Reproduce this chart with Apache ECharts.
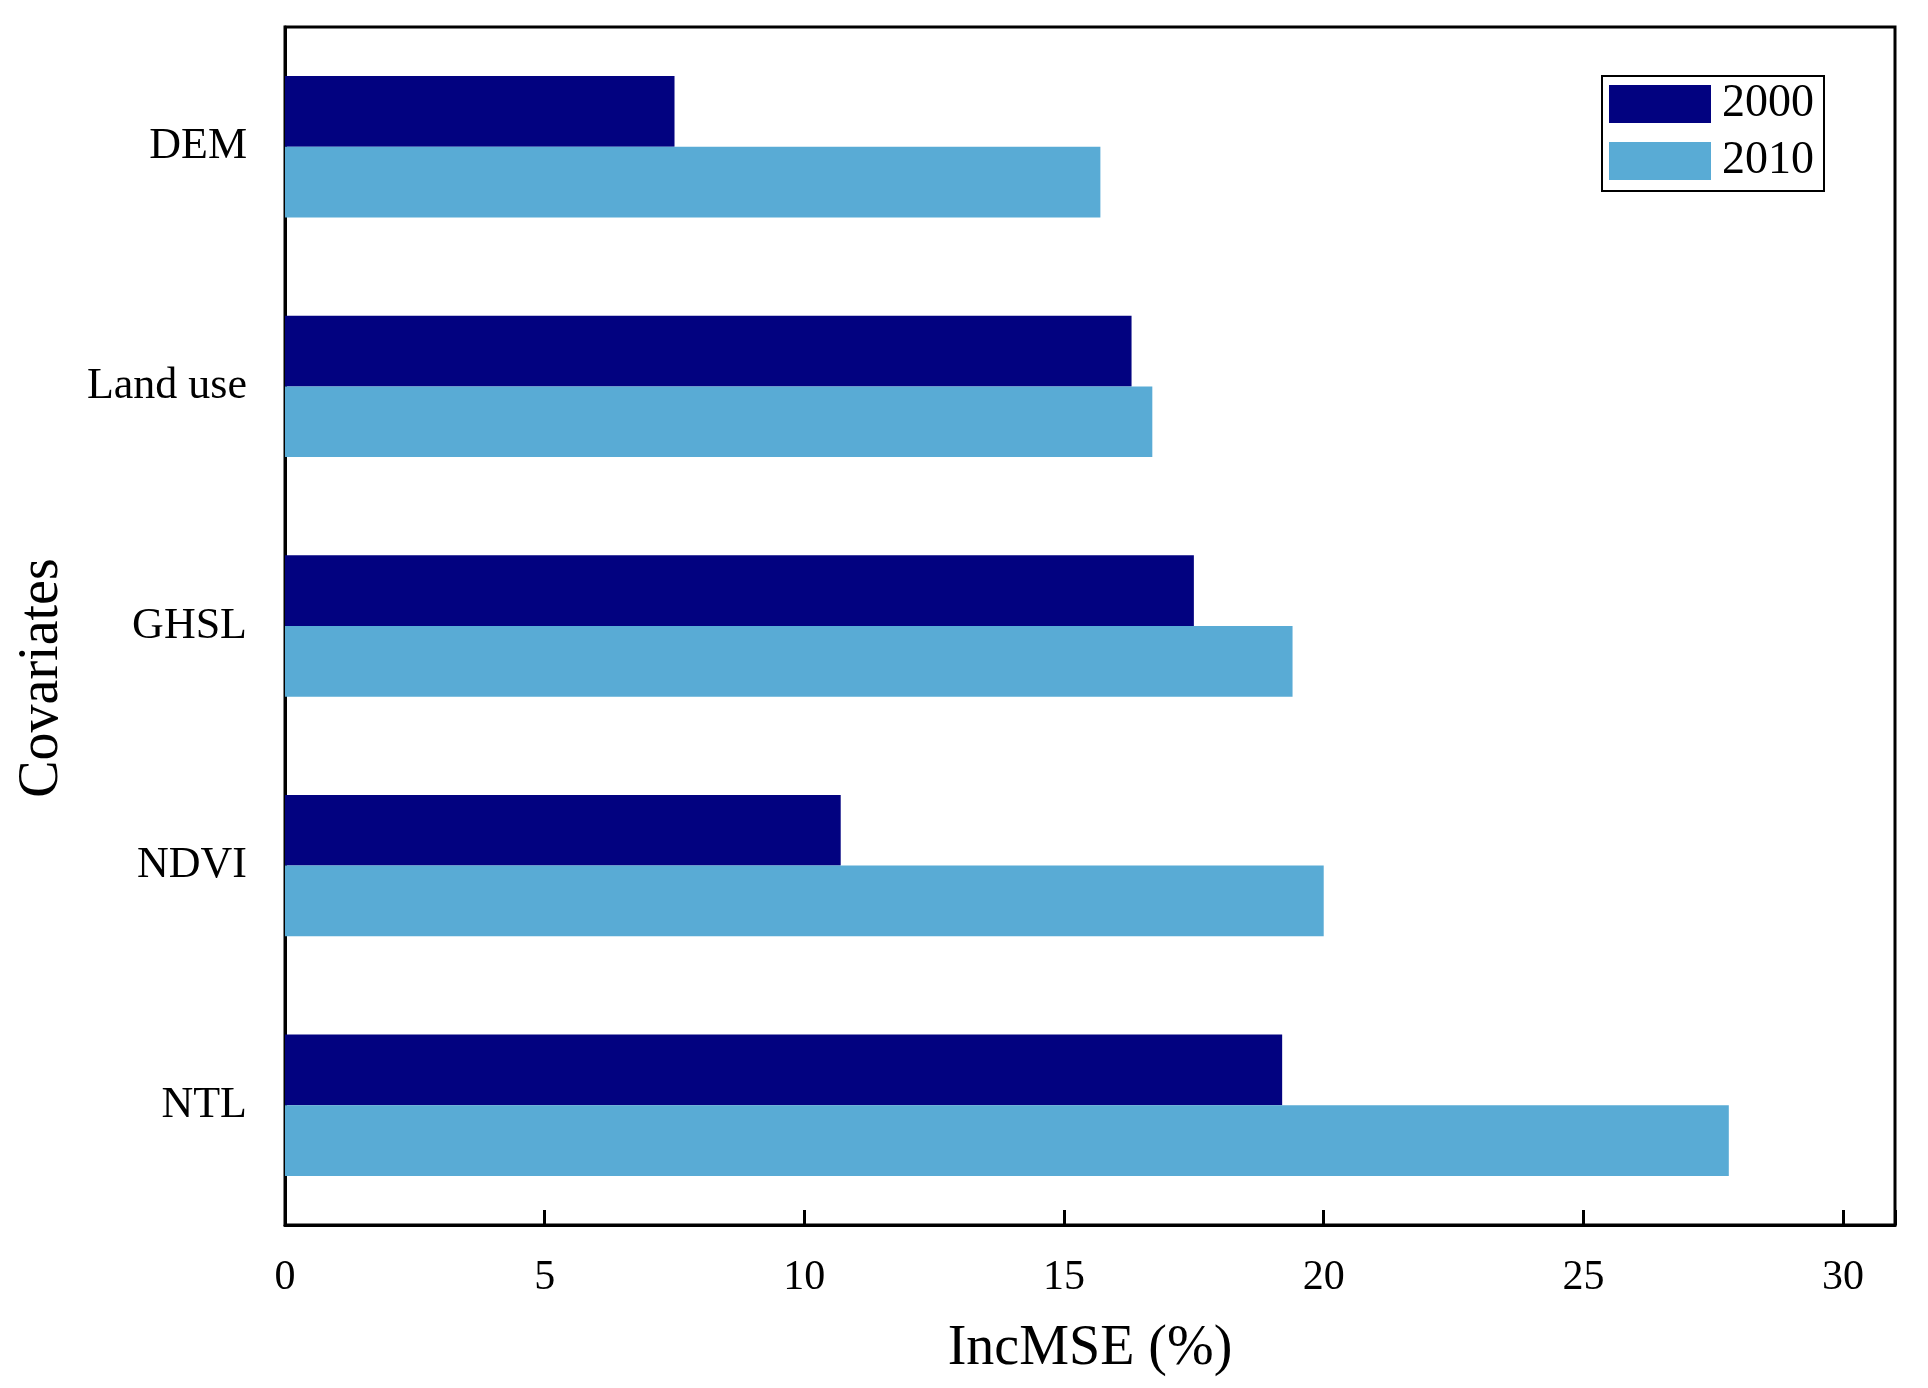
<!DOCTYPE html>
<html>
<head>
<meta charset="utf-8">
<script src="https://cdn.jsdelivr.net/npm/echarts@6/dist/echarts.min.js"></script>
<style>
html,body{margin:0;padding:0;background:#fff;}
#chart{width:1928px;height:1388px;}
</style>
</head>
<body>
<div id="chart"></div>
<script>
var categories = ['DEM', 'Land use', 'GHSL', 'NDVI', 'NTL'];
var seriesNames = ['2000', '2010'];
var values2000 = [7.5, 16.3, 17.5, 10.7, 19.2];
var values2010 = [15.7, 16.7, 19.4, 20.0, 27.8];
var xTicks = [0, 5, 10, 15, 20, 25, 30];

var FONT = '"Liberation Serif", "Times New Roman", serif';
var chart = echarts.init(document.getElementById('chart'));
chart.setOption({
  backgroundColor: '#ffffff',
  animation: false,
  grid: {
    left: 285, top: 27, right: 33, bottom: 163,
    show: true, borderColor: '#000', borderWidth: 3, backgroundColor: 'transparent'
  },
  legend: {
    orient: 'vertical',
    left: 1602, top: 76,
    padding: [5, 10, 7, 7],
    itemWidth: 102, itemHeight: 38, itemGap: 11,
    icon: 'rect',
    borderColor: '#000', borderWidth: 2,
    backgroundColor: '#fff',
    data: seriesNames,
    textStyle: { fontFamily: FONT, fontSize: 46, color: '#000', padding: [0, 0, 0, 6] }
  },
  xAxis: {
    type: 'value',
    min: 0, max: 31, interval: 5,
    name: 'IncMSE (%)',
    nameLocation: 'middle',
    nameGap: 96,
    nameTextStyle: { fontFamily: FONT, fontSize: 56, color: '#000' },
    axisLine: { show: true, lineStyle: { color: '#000', width: 3 } },
    axisTick: { show: true, inside: true, length: 15, lineStyle: { color: '#000', width: 3 } },
    axisLabel: {
      fontFamily: FONT, fontSize: 42, color: '#000', margin: 32,
      formatter: function (v) { return xTicks.indexOf(v) >= 0 ? String(v) : ''; }
    },
    splitLine: { show: false }
  },
  yAxis: {
    type: 'category',
    inverse: true,
    data: categories,
    name: 'Covariates',
    nameLocation: 'middle',
    nameGap: 215,
    nameTextStyle: { fontFamily: FONT, fontSize: 56, color: '#000', padding: [0, 104, 0, 0] },
    axisLine: { show: true, lineStyle: { color: '#000', width: 3 } },
    axisTick: { show: false },
    axisLabel: { fontFamily: FONT, fontSize: 44, color: '#000', margin: 38 },
    splitLine: { show: false }
  },
  series: [
    {
      name: seriesNames[0], type: 'bar', data: values2000,
      barGap: '0%', barCategoryGap: '41%',
      itemStyle: { color: '#020280' }
    },
    {
      name: seriesNames[1], type: 'bar', data: values2010,
      barGap: '0%', barCategoryGap: '41%',
      itemStyle: { color: '#59abd5' }
    }
  ]
});
</script>
</body>
</html>
